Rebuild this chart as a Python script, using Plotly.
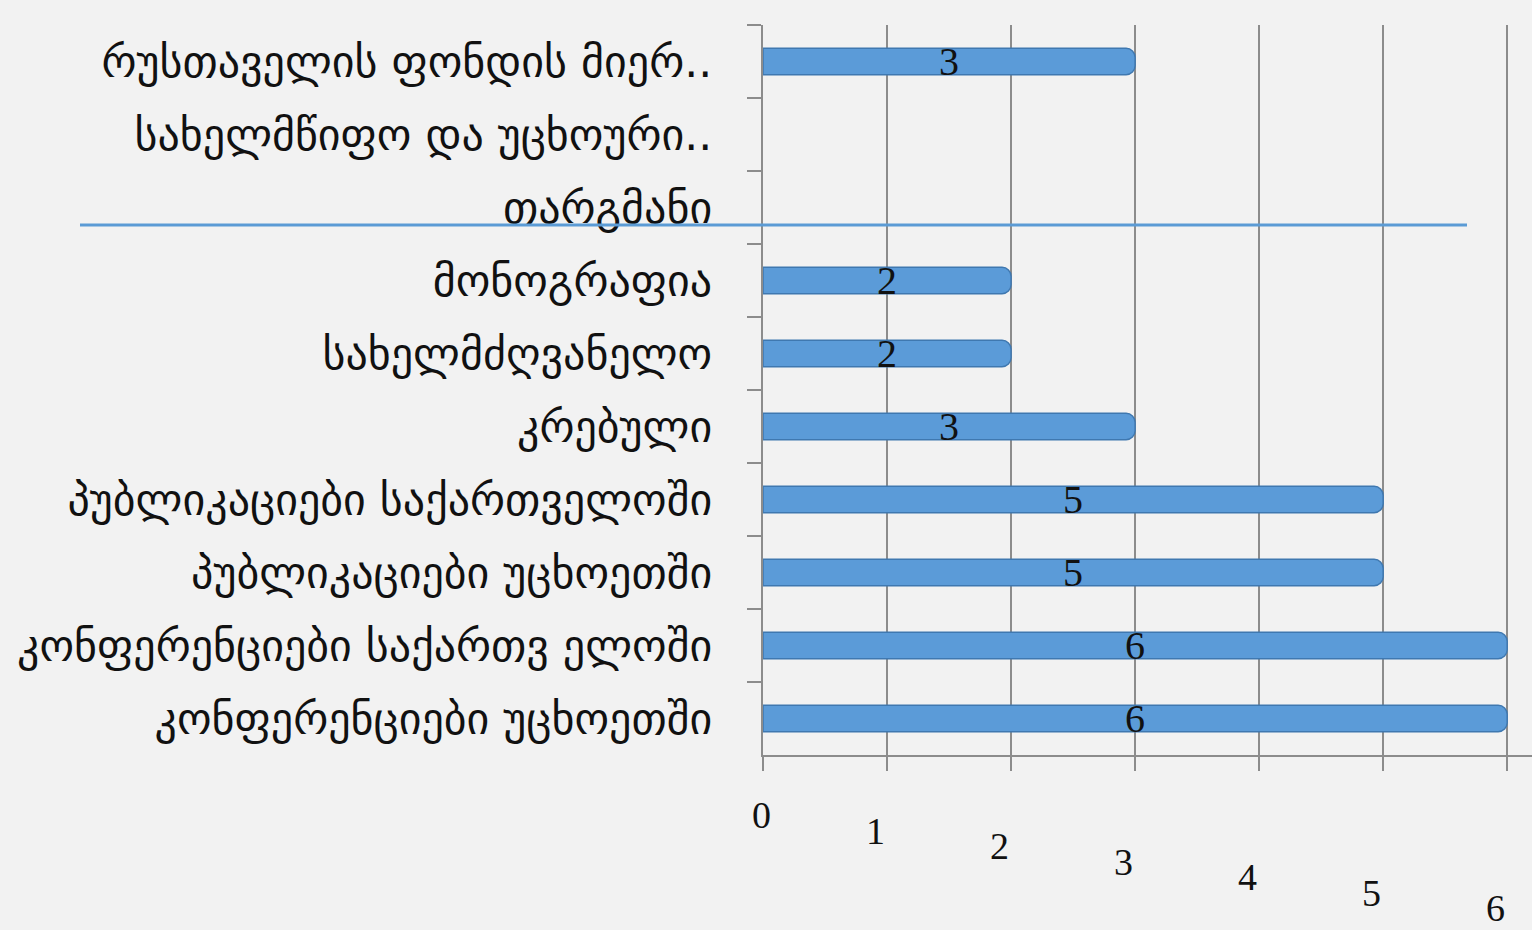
import plotly.graph_objects as go

categories = [
    "რუსთაველის ფონდის მიერ..",
    "სახელმწიფო და უცხოური..",
    "თარგმანი",
    "მონოგრაფია",
    "სახელმძღვანელო",
    "კრებული",
    "პუბლიკაციები საქართველოში",
    "პუბლიკაციები უცხოეთში",
    "კონფერენციები საქართვ ელოში",
    "კონფერენციები უცხოეთში",
]
values = [3, None, None, 2, 2, 3, 5, 5, 6, 6]
x_ticks = [0, 1, 2, 3, 4, 5, 6]
x_tick_labels = ["0", "1", "2", "3", "4", "5", "6"]

BAR = "#5b9bd8"
EDGE = "#3f78b0"
GRID = "#8c8c8c"

fig = go.Figure()
fig.add_trace(go.Bar(
    y=categories,
    x=values,
    orientation="h",
    width=0.36,
    marker=dict(color=BAR, line=dict(color=EDGE, width=1.5), cornerradius=9),
    text=[("" if v is None else str(v)) for v in values],
    textposition="inside",
    insidetextanchor="middle",
    textangle=0,
    constraintext="none",
    textfont=dict(family="Liberation Serif", size=40, color="#111111"),
    cliponaxis=False,
    hoverinfo="skip",
))

annotations = []
for t, lab in zip(x_ticks, x_tick_labels):
    annotations.append(dict(
        x=t, xref="x", y=0, yref="paper",
        text=lab, showarrow=False, yanchor="middle", xanchor="center",
        xshift=-12 if t > 0 else -2, yshift=-(60 + 15.5 * t),
        font=dict(family="Liberation Serif", size=38, color="#111111"),
    ))

fig.update_layout(
    width=1532, height=930,
    margin=dict(l=763, r=0, t=25, b=175),
    paper_bgcolor="#f2f2f2",
    plot_bgcolor="rgba(0,0,0,0)",
    showlegend=False,
    bargap=0.6,
    uniformtext=dict(minsize=40, mode="show"),
    xaxis=dict(
        range=[0, 6.2], tickvals=x_ticks, showticklabels=False,
        showgrid=True, gridcolor=GRID, gridwidth=2,
        zeroline=False, showline=True, linecolor=GRID, linewidth=2,
        ticks="outside", ticklen=14, tickcolor=GRID, tickwidth=2,
        fixedrange=True,
    ),
    yaxis=dict(
        type="category", autorange="reversed",
        showgrid=False, zeroline=False,
        showline=True, linecolor=GRID, linewidth=2,
        ticks="outside", tickson="boundaries", ticklen=14, tickcolor=GRID, tickwidth=2,
        ticklabelstandoff=40,
        tickfont=dict(family="DejaVu Sans", size=44, color="#111111"),
        fixedrange=True,
    ),
    annotations=annotations,
    shapes=[dict(
        type="line", xref="paper", yref="paper",
        x0=(80 - 763) / 769, x1=(1467 - 763) / 769,
        y0=(930 - 175 - 225) / 730, y1=(930 - 175 - 225) / 730,
        line=dict(color="#5b9bd5", width=3), layer="above",
    )],
)

fig.write_html(
    "out.html",
    config={"displayModeBar": False},
    post_script="document.body.style.margin='0';document.body.style.background='#f2f2f2';",
)
